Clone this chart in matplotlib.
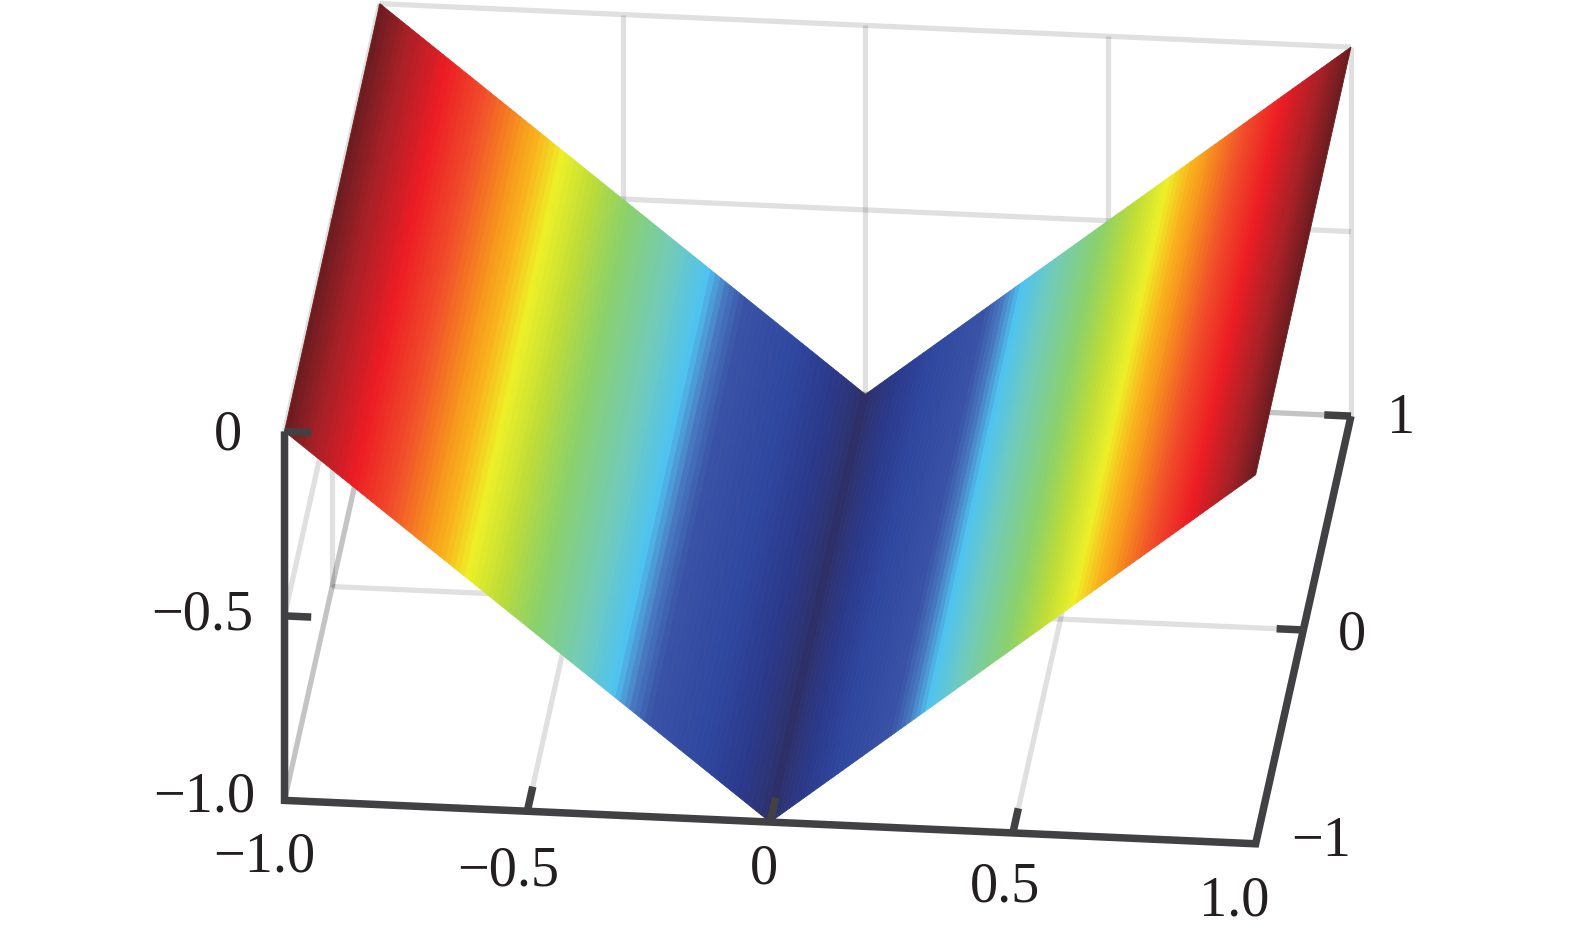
import matplotlib
matplotlib.use("Agg")
import matplotlib.pyplot as plt
import numpy as np
from matplotlib.colors import LinearSegmentedColormap

# surface profile (same for every y)
x_vals = [-1.0, -0.99, -0.98, -0.97, -0.96, -0.95, -0.94, -0.93, -0.92, -0.91,
          -0.9, -0.89, -0.88, -0.87, -0.86, -0.85, -0.84, -0.83, -0.82, -0.81,
          -0.8, -0.79, -0.78, -0.77, -0.76, -0.75, -0.74, -0.73, -0.72, -0.71,
          -0.7, -0.69, -0.68, -0.67, -0.66, -0.65, -0.64, -0.63, -0.62, -0.61,
          -0.6, -0.59, -0.58, -0.57, -0.56, -0.55, -0.54, -0.53, -0.52, -0.51,
          -0.5, -0.49, -0.48, -0.47, -0.46, -0.45, -0.44, -0.43, -0.42, -0.41,
          -0.4, -0.39, -0.38, -0.37, -0.36, -0.35, -0.34, -0.33, -0.32, -0.31,
          -0.3, -0.29, -0.28, -0.27, -0.26, -0.25, -0.24, -0.23, -0.22, -0.21,
          -0.2, -0.19, -0.18, -0.17, -0.16, -0.15, -0.14, -0.13, -0.12, -0.11,
          -0.1, -0.09, -0.08, -0.07, -0.06, -0.05, -0.04, -0.03, -0.02, -0.01,
          0.0, 0.01, 0.02, 0.03, 0.04, 0.05, 0.06, 0.07, 0.08, 0.09,
          0.1, 0.11, 0.12, 0.13, 0.14, 0.15, 0.16, 0.17, 0.18, 0.19,
          0.2, 0.21, 0.22, 0.23, 0.24, 0.25, 0.26, 0.27, 0.28, 0.29,
          0.3, 0.31, 0.32, 0.33, 0.34, 0.35, 0.36, 0.37, 0.38, 0.39,
          0.4, 0.41, 0.42, 0.43, 0.44, 0.45, 0.46, 0.47, 0.48, 0.49,
          0.5, 0.51, 0.52, 0.53, 0.54, 0.55, 0.56, 0.57, 0.58, 0.59,
          0.6, 0.61, 0.62, 0.63, 0.64, 0.65, 0.66, 0.67, 0.68, 0.69,
          0.7, 0.71, 0.72, 0.73, 0.74, 0.75, 0.76, 0.77, 0.78, 0.79,
          0.8, 0.81, 0.82, 0.83, 0.84, 0.85, 0.86, 0.87, 0.88, 0.89,
          0.9, 0.91, 0.92, 0.93, 0.94, 0.95, 0.96, 0.97, 0.98, 0.99, 1.0]
z_vals = [0.0, -0.01, -0.02, -0.03, -0.04, -0.05, -0.06, -0.07, -0.08, -0.09,
          -0.1, -0.11, -0.12, -0.13, -0.14, -0.15, -0.16, -0.17, -0.18, -0.19,
          -0.2, -0.21, -0.22, -0.23, -0.24, -0.25, -0.26, -0.27, -0.28, -0.29,
          -0.3, -0.31, -0.32, -0.33, -0.34, -0.35, -0.36, -0.37, -0.38, -0.39,
          -0.4, -0.41, -0.42, -0.43, -0.44, -0.45, -0.46, -0.47, -0.48, -0.49,
          -0.5, -0.51, -0.52, -0.53, -0.54, -0.55, -0.56, -0.57, -0.58, -0.59,
          -0.6, -0.61, -0.62, -0.63, -0.64, -0.65, -0.66, -0.67, -0.68, -0.69,
          -0.7, -0.71, -0.72, -0.73, -0.74, -0.75, -0.76, -0.77, -0.78, -0.79,
          -0.8, -0.81, -0.82, -0.83, -0.84, -0.85, -0.86, -0.87, -0.88, -0.89,
          -0.9, -0.91, -0.92, -0.93, -0.94, -0.95, -0.96, -0.97, -0.98, -0.99,
          -1.0, -0.99, -0.98, -0.97, -0.96, -0.95, -0.94, -0.93, -0.92, -0.91,
          -0.9, -0.89, -0.88, -0.87, -0.86, -0.85, -0.84, -0.83, -0.82, -0.81,
          -0.8, -0.79, -0.78, -0.77, -0.76, -0.75, -0.74, -0.73, -0.72, -0.71,
          -0.7, -0.69, -0.68, -0.67, -0.66, -0.65, -0.64, -0.63, -0.62, -0.61,
          -0.6, -0.59, -0.58, -0.57, -0.56, -0.55, -0.54, -0.53, -0.52, -0.51,
          -0.5, -0.49, -0.48, -0.47, -0.46, -0.45, -0.44, -0.43, -0.42, -0.41,
          -0.4, -0.39, -0.38, -0.37, -0.36, -0.35, -0.34, -0.33, -0.32, -0.31,
          -0.3, -0.29, -0.28, -0.27, -0.26, -0.25, -0.24, -0.23, -0.22, -0.21,
          -0.2, -0.19, -0.18, -0.17, -0.16, -0.15, -0.14, -0.13, -0.12, -0.11,
          -0.1, -0.09, -0.08, -0.07, -0.06, -0.05, -0.04, -0.03, -0.02, -0.01, 0.0]
y_vals = [-1.0, 1.0]

x_ticks = [-1.0, -0.5, 0.0, 0.5, 1.0]
y_ticks = [-1.0, 0.0, 1.0]
z_ticks = [-1.0, -0.5, 0.0]
x_labels = ['\u22121.0', '\u22120.5', '0', '0.5', '1.0']
y_labels = ['\u22121', '0', '1']
z_labels = ['\u22121.0', '\u22120.5', '0']

# colour stops, height above the valley floor -> colour
stop_pos = [0.0, 0.025, 0.07, 0.14, 0.25, 0.29, 0.325, 0.395, 0.49, 0.56, 0.625,
            0.67, 0.71, 0.78, 0.86, 0.94, 1.0]
stop_col = ['#2e2e66', '#2d3578', '#2b3a8c', '#2f479f', '#3953a6', '#4a7fc4', '#4fc3f0',
            '#72cbb9', '#8bd16a', '#bddc37', '#eef027', '#f9b71d', '#f7941d',
            '#f1502a', '#ed1c24', '#a82027', '#6b1c20']

W, H = 1575, 936
DARK = '#414042'
S = 1388  # axes side in pixels

plt.rcParams['font.family'] = ['Liberation Serif', 'DejaVu Serif']
fig = plt.figure(figsize=(W / 100, H / 100), dpi=100, facecolor='white')
ax = fig.add_axes([105 / W, -200.5 / H, S / W, S / H], projection='3d',
                  proj_type='ortho', computed_zorder=False)
ax.view_init(elev=26.6, azim=-84.3)
ax.set_box_aspect((972, 956, 411))
ax.set_xlim(-1, 1)
ax.set_ylim(-1, 1)
ax.set_zlim(-1, 0)
ax.set_axis_off()

x0, x1 = x_ticks[0], x_ticks[-1]
y0, y1 = y_ticks[0], y_ticks[-1]
z0, z1 = z_ticks[0], z_ticks[-1]


def grid(xs, ys, zs):
    ax.plot(xs, ys, zs, color='black', alpha=0.12, lw=3.8, zorder=1,
            solid_capstyle='butt')


# back wall
for x in x_ticks:
    grid([x, x], [y1, y1], [z0, z1])
for z in z_ticks:
    grid([x0, x1], [y1, y1], [z, z])
# floor
for x in x_ticks:
    grid([x, x], [y0, y1], [z0, z0])
for y in y_ticks[1:]:
    grid([x0, x1], [y, y], [z0, z0])
# left wall
for y in y_ticks:
    grid([x0, x0], [y, y], [z0, z1])
for z in z_ticks:
    grid([x0, x0], [y0, y1], [z, z])

# surface
X, Y = np.meshgrid(x_vals, y_vals)
Z = np.array([z_vals, z_vals])
cmap = LinearSegmentedColormap.from_list('valley', list(zip(stop_pos, stop_col)), N=512)
z_arr = np.array(z_vals)
mid = 0.5 * (z_arr[1:] + z_arr[:-1]) - z0
cols = cmap(np.array([mid]))
surf = ax.plot_surface(X, Y, Z, facecolors=cols, rstride=1, cstride=1, shade=False,
                       linewidth=0.6, antialiased=True, zorder=2)
surf.set_edgecolor(surf._facecolor3d)

# dark axes and ticks
LW = 5.4
ax.plot([x0, x0, x1, x1], [y0, y0, y0, y1], [z1, z0, z0, z0], color=DARK, lw=LW,
        zorder=3, solid_joinstyle='miter', solid_capstyle='butt')
for x in x_ticks[1:-1]:
    ax.plot([x, x], [y0, y0 + 0.115], [z0, z0], color=DARK, lw=LW, zorder=3,
            solid_capstyle='butt')
for y in y_ticks[1:]:
    ax.plot([x1, x1 - 0.055], [y, y], [z0, z0], color=DARK, lw=LW, zorder=3,
            solid_capstyle='butt')
for z in z_ticks[1:]:
    ax.plot([x0, x0 + 0.055], [y0, y0], [z, z], color=DARK, lw=LW, zorder=3,
            solid_capstyle='butt')

# tick labels, placed by pixel centre
FS = 40.5
x_label_px = [(264, 857), (508, 871), (764, 870), (1005, 888), (1234, 902)]
y_label_px = [(1321, 842), (1352, 635), (1401, 419)]
z_label_px = [(255, 798), (253, 616), (242, 435)]
for txt, (px, py) in zip(x_labels, x_label_px):
    fig.text(px / W, 1 - py / H, txt, ha='center', va='center', fontsize=FS, color='#231f20')
for txt, (px, py) in zip(y_labels, y_label_px):
    fig.text(px / W, 1 - py / H, txt, ha='center', va='center', fontsize=FS, color='#231f20')
for txt, (px, py) in zip(z_labels, z_label_px):
    fig.text(px / W, 1 - py / H, txt, ha='right', va='center', fontsize=FS, color='#231f20')

fig.savefig('out.png', dpi=100, facecolor='white')
